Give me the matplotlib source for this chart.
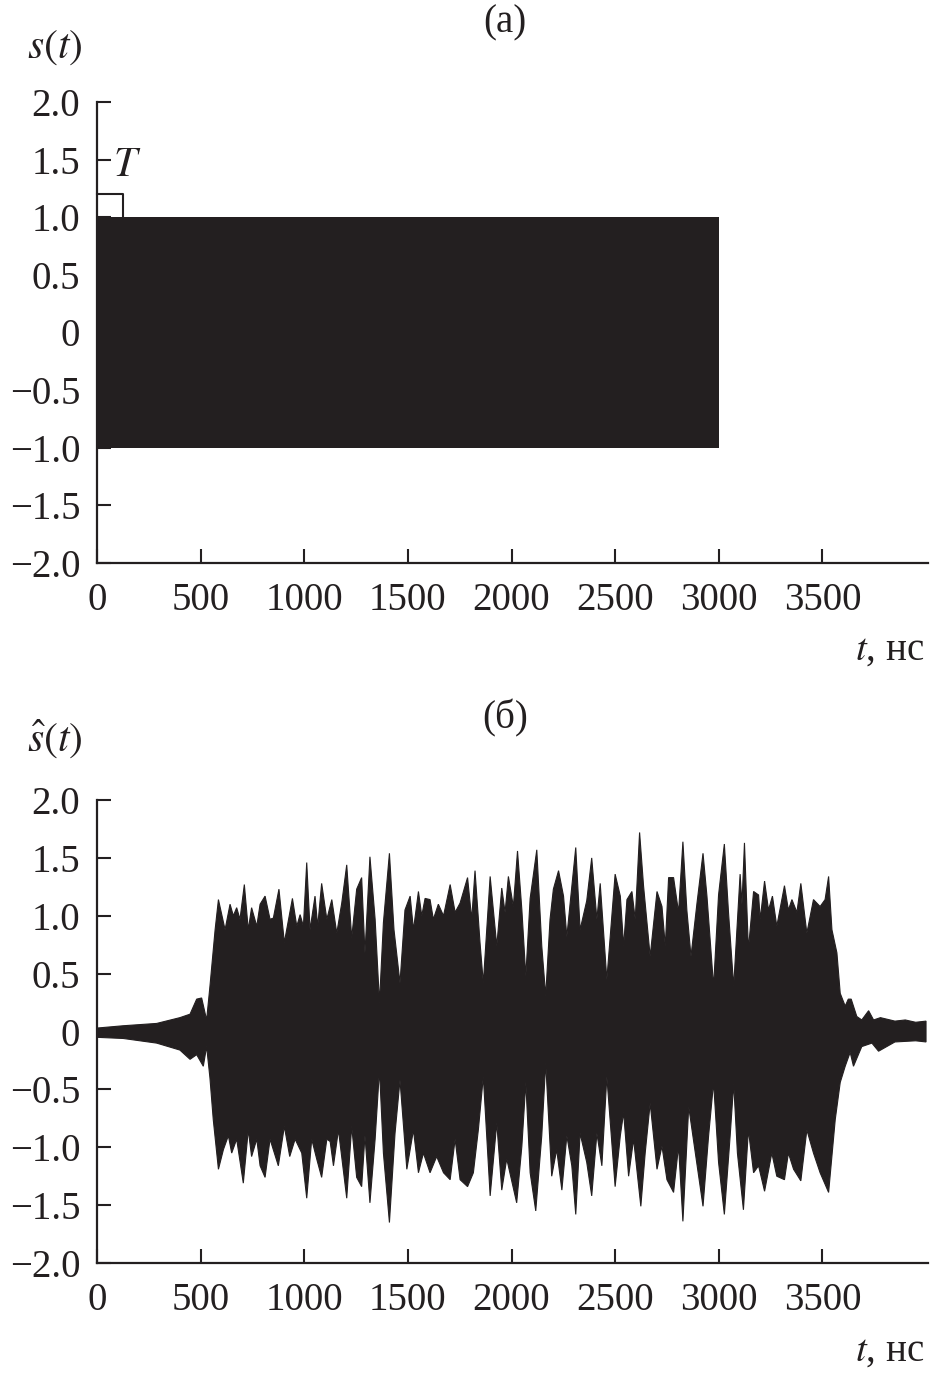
import numpy as np
import matplotlib
matplotlib.use("Agg")
import matplotlib.pyplot as plt

plt.rcParams["font.family"] = ["Liberation Serif", "DejaVu Serif"]
plt.rcParams["mathtext.fontset"] = "stix"

INK = "#231f20"

# (a) transmitted pulse: constant envelope +-1 from 0 to 3000 ns
t_a = [0, 3000]
env_a = [1.0, 1.0]
period_T = 125  # ns, width of the "T" bracket

# (б) received signal: upper / lower envelope
t_up = [0, 127, 288, 400, 449, 481, 505, 529, 545, 570, 586, 618, 642, 658, 674, 690,
        711, 730, 746, 771, 787, 811, 835, 851, 878, 904, 943, 964, 980, 996, 1012, 1028,
        1052, 1065, 1084, 1109, 1133, 1157, 1181, 1205, 1229, 1253, 1277, 1293, 1317,
        1342, 1363, 1382, 1411, 1433, 1462, 1486, 1511, 1527, 1551, 1567, 1583, 1607,
        1623, 1647, 1672, 1704, 1728, 1752, 1788, 1808, 1824, 1848, 1864, 1897, 1929,
        1953, 1969, 1985, 2009, 2029, 2050, 2069, 2090, 2122, 2146, 2165, 2186, 2202,
        2227, 2251, 2267, 2283, 2310, 2331, 2363, 2387, 2412, 2428, 2460, 2500, 2525,
        2541, 2557, 2581, 2597, 2618, 2637, 2669, 2702, 2726, 2742, 2758, 2782, 2806,
        2827, 2846, 2866, 2895, 2924, 2943, 2975, 2999, 3027, 3047, 3072, 3085, 3103,
        3112, 3124, 3143, 3168, 3192, 3200, 3221, 3240, 3259, 3280, 3317, 3336, 3353,
        3377, 3396, 3425, 3457, 3489, 3513, 3530, 3546, 3570, 3586, 3610, 3625, 3639,
        3666, 3690, 3723, 3747, 3780, 3850, 3900, 3950, 4000]
v_up = [0.03, 0.05, 0.07, 0.12, 0.15, 0.28, 0.29, 0.10, 0.39, 0.88, 1.14, 0.88, 1.10,
        1.00, 1.07, 0.97, 1.27, 0.88, 1.07, 0.91, 1.10, 1.17, 0.97, 0.98, 1.23, 0.77,
        1.15, 0.91, 1.01, 0.91, 1.46, 0.88, 1.17, 0.91, 1.28, 0.97, 1.14, 0.85, 1.11,
        1.44, 0.81, 1.23, 1.33, 0.68, 1.51, 0.97, 0.25, 0.94, 1.54, 0.88, 0.42, 1.05,
        1.17, 0.88, 1.21, 1.00, 1.15, 1.14, 0.97, 1.10, 1.00, 1.27, 1.03, 1.11, 1.33,
        0.97, 1.39, 0.77, 0.42, 1.34, 0.74, 1.24, 1.03, 1.34, 1.08, 1.56, 1.05, 0.48,
        1.15, 1.57, 0.74, 0.31, 0.97, 1.23, 1.39, 1.17, 0.82, 1.11, 1.59, 0.88, 1.13,
        1.50, 0.97, 1.28, 0.45, 1.36, 1.17, 0.74, 1.14, 1.21, 0.97, 1.72, 1.26, 0.65,
        1.21, 1.08, 0.74, 1.33, 1.33, 1.03, 1.64, 1.05, 0.65, 1.11, 1.54, 1.17, 0.39,
        1.18, 1.62, 1.03, 0.39, 0.80, 1.36, 1.10, 1.63, 0.71, 1.21, 1.18, 0.97, 1.30,
        1.05, 1.17, 0.91, 1.26, 1.05, 1.14, 1.03, 1.28, 0.85, 1.14, 1.08, 1.14, 1.34,
        0.88, 0.68, 0.33, 0.22, 0.28, 0.28, 0.13, 0.10, 0.18, 0.10, 0.12, 0.09, 0.10,
        0.08, 0.09]

t_lo = [0, 127, 288, 400, 449, 481, 513, 529, 545, 561, 586, 610, 634, 650, 674, 706,
        730, 746, 771, 787, 811, 835, 875, 904, 930, 956, 988, 1012, 1036, 1060, 1084,
        1109, 1125, 1141, 1165, 1205, 1229, 1253, 1277, 1293, 1317, 1342, 1363, 1382,
        1411, 1438, 1462, 1495, 1527, 1551, 1575, 1607, 1639, 1672, 1704, 1728, 1752,
        1788, 1816, 1840, 1864, 1897, 1929, 1953, 1977, 2025, 2050, 2069, 2090, 2117,
        2146, 2165, 2194, 2218, 2243, 2267, 2291, 2310, 2331, 2363, 2387, 2412, 2436,
        2460, 2500, 2525, 2541, 2565, 2589, 2624, 2645, 2669, 2702, 2726, 2750, 2782,
        2806, 2827, 2855, 2887, 2924, 2951, 2975, 2999, 3027, 3055, 3072, 3090, 3119,
        3143, 3168, 3192, 3221, 3256, 3280, 3317, 3336, 3361, 3396, 3425, 3457, 3489,
        3530, 3562, 3586, 3610, 3634, 3650, 3690, 3739, 3771, 3850, 3950, 4000]
v_lo = [-0.05, -0.06, -0.10, -0.16, -0.24, -0.20, -0.30, -0.13, -0.40, -0.76, -1.19,
        -1.02, -0.90, -1.05, -0.93, -1.31, -0.85, -1.08, -0.93, -1.16, -1.26, -0.93,
        -1.16, -0.82, -1.08, -0.93, -1.05, -1.44, -0.93, -1.10, -1.26, -0.93, -0.95,
        -1.16, -0.85, -1.44, -0.82, -1.26, -1.34, -0.90, -1.48, -0.93, -0.33, -1.05,
        -1.65, -0.88, -0.42, -1.19, -0.85, -1.22, -1.05, -1.22, -1.08, -1.22, -1.28,
        -0.93, -1.28, -1.34, -1.22, -0.85, -0.39, -1.42, -0.79, -1.37, -1.10, -1.48,
        -0.99, -0.44, -1.22, -1.55, -0.90, -0.27, -1.25, -1.02, -1.37, -0.90, -1.16,
        -1.58, -0.88, -1.13, -1.42, -0.88, -1.16, -0.39, -1.34, -0.90, -0.70, -1.25,
        -0.93, -1.51, -1.05, -0.62, -1.19, -0.99, -1.28, -1.39, -0.99, -1.64, -0.65,
        -1.05, -1.51, -0.90, -0.44, -1.13, -1.58, -0.90, -0.45, -1.05, -1.54, -0.85,
        -1.22, -1.16, -1.38, -1.05, -1.25, -1.28, -1.05, -1.19, -1.29, -0.85, -1.05,
        -1.22, -1.39, -0.76, -0.44, -0.30, -0.18, -0.30, -0.13, -0.10, -0.17, -0.09,
        -0.08, -0.09]

x_ticks = [0, 500, 1000, 1500, 2000, 2500, 3000, 3500]
y_ticks = [2.0, 1.5, 1.0, 0.5, 0, -0.5, -1.0, -1.5, -2.0]
y_labels = ["2.0", "1.5", "1.0", "0.5", "0", "\u22120.5", "\u22121.0", "\u22121.5", "\u22122.0"]


def style_axes(ax):
    ax.set_xlim(0, 4010)
    ax.set_ylim(-2.0, 2.0)
    ax.spines["top"].set_visible(False)
    ax.spines["right"].set_visible(False)
    for s in ("left", "bottom"):
        ax.spines[s].set_linewidth(1.6)
        ax.spines[s].set_color(INK)
    ax.set_xticks(x_ticks)
    ax.set_xticklabels([str(v) for v in x_ticks])
    ax.set_yticks(y_ticks)
    ax.set_yticklabels(y_labels)
    ax.tick_params(direction="in", length=10, width=1.5, colors=INK, labelsize=28)
    ax.tick_params(axis="x", pad=14)
    ax.tick_params(axis="y", pad=12)
    ax.text(0.995, -0.19, "$t$, нс", transform=ax.transAxes, ha="right", va="center",
            fontsize=28, color=INK)


fig = plt.figure(figsize=(9.37, 13.73), dpi=100)
ax1 = fig.add_axes([0.1035, 0.590, 0.887, 0.3357])
ax2 = fig.add_axes([0.1035, 0.0801, 0.887, 0.3372])

# (a)
env = np.array(env_a)
ax1.fill_between(t_a, -env, env, color=INK, lw=0)
style_axes(ax1)
ax1.plot([0, period_T, period_T], [1.2, 1.2, 1.0], color=INK, lw=1.5, clip_on=False)
ax1.text(period_T + 20, 1.45, "$T$", fontsize=30, ha="center", va="center", color=INK)
fig.text(0.058, 0.965, "$s(t)$", fontsize=30, ha="center", va="center", color=INK)
fig.text(0.539, 0.983, "(а)", fontsize=28, ha="center", va="center", color=INK)

# (б)
xs = np.concatenate([t_up, t_lo[::-1]])
ys = np.concatenate([v_up, v_lo[::-1]])
ax2.fill(xs, ys, color=INK, lw=0.8, ec=INK)
style_axes(ax2)
fig.text(0.058, 0.462, r"$\hat{s}(t)$", fontsize=30, ha="center", va="center", color=INK)
fig.text(0.539, 0.477, "(б)", fontsize=28, ha="center", va="center", color=INK)

fig.savefig("out.png", dpi=100, facecolor="white")
